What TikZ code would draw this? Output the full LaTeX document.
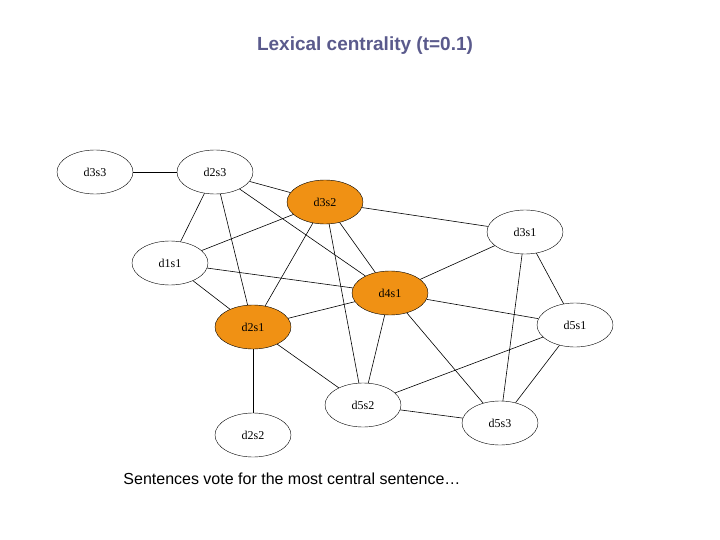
\documentclass[tikz,border=0pt]{standalone}
\usepackage{fontspec}
\newfontfamily\sansf{Liberation Sans}
\setmainfont{Liberation Serif}
\usetikzlibrary{shapes.geometric}
\begin{document}
\begin{tikzpicture}[x=1pt,y=-1pt,
  nd/.style={draw,ellipse,minimum width=76pt,minimum height=44pt,inner sep=0pt,font=\fontsize{12}{14}\selectfont},
  hot/.style={nd,fill={rgb,255:red,240;green,145;blue,20}},
  ed/.style={draw,line width=0.6pt}]
\useasboundingbox (0,0) rectangle (720,540);
\node[font=\sansf\bfseries\fontsize{19}{22}\selectfont,text={rgb,255:red,90;green,90;blue,140}] (title) at (365,46) {Lexical centrality (t=0.1)};
\node[nd] (d3s3) at (95,172) {d3s3};
\node[nd] (d2s3) at (215,172) {d2s3};
\node[hot] (d3s2) at (325,202) {d3s2};
\node[nd] (d3s1) at (525,232) {d3s1};
\node[nd] (d1s1) at (170,263) {d1s1};
\node[hot] (d4s1) at (390,293) {d4s1};
\node[nd] (d5s1) at (575,325) {d5s1};
\node[hot] (d2s1) at (253,327) {d2s1};
\node[nd] (d5s2) at (363,405) {d5s2};
\node[nd] (d2s2) at (253,435) {d2s2};
\node[nd] (d5s3) at (500,423) {d5s3};
\foreach \a/\b in {d3s3/d2s3,d2s3/d3s2,d2s3/d1s1,d2s3/d2s1,d2s3/d4s1,d3s2/d1s1,d3s2/d2s1,d3s2/d5s2,d3s2/d4s1,d3s2/d3s1,d1s1/d4s1,d1s1/d2s1,d4s1/d3s1,d4s1/d2s1,d4s1/d5s1,d4s1/d5s2,d4s1/d5s3,d3s1/d5s1,d3s1/d5s3,d2s1/d2s2,d2s1/d5s2,d5s1/d5s2,d5s1/d5s3,d5s2/d5s3}
  \draw[ed] (\a) -- (\b);
\node[font=\sansf\fontsize{16}{19}\selectfont] (cap) at (292,479) {Sentences vote for the most central sentence…};
\end{tikzpicture}
\end{document}
